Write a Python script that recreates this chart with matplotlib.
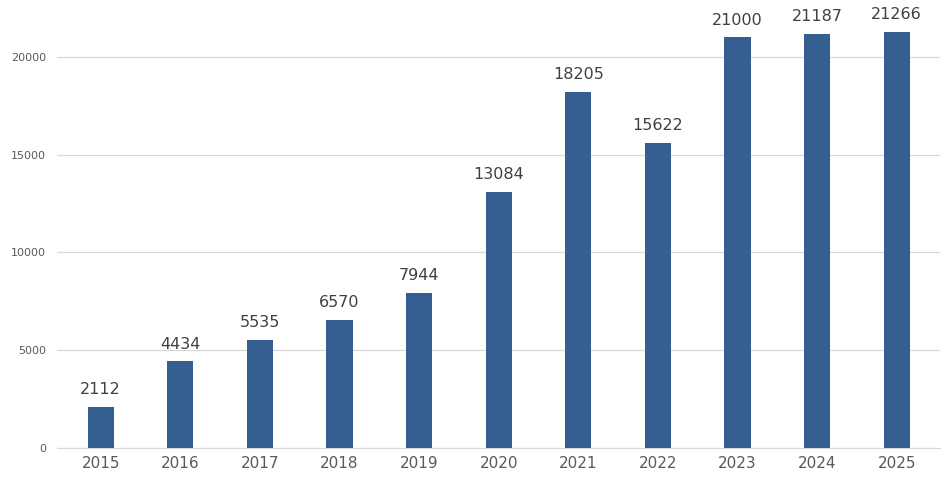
import matplotlib.pyplot as plt

years = ["2015", "2016", "2017", "2018", "2019", "2020", "2021", "2022", "2023", "2024", "2025"]
values = [2112, 4434, 5535, 6570, 7944, 13084, 18205, 15622, 21000, 21187, 21266]

fig = plt.figure(figsize=(9.48, 4.94), dpi=100)
ax = fig.add_axes([0.06, 0.093, 0.932, 0.871])

x = range(len(years))
bars = ax.bar(x, values, width=0.33, color="#365F91", zorder=3)
for b, v in zip(bars, values):
    ax.text(b.get_x() + b.get_width() / 2, v + 500, str(v), ha="center", va="bottom",
            fontsize=11.5, color="#404040")

ax.set_xlim(-0.55, len(years) - 0.45)
ax.set_ylim(0, 22000)
ax.set_yticks([0, 5000, 10000, 15000, 20000])
ax.set_xticks(list(x))
ax.set_xticklabels(years)
ax.grid(axis="y", color="#d9d9d9", linewidth=0.9, zorder=0)
ax.tick_params(axis="y", length=0, labelsize=8, labelcolor="#595959", pad=8)
ax.tick_params(axis="x", length=0, labelsize=11, labelcolor="#595959", pad=6)
for s in ["top", "right", "left"]:
    ax.spines[s].set_visible(False)
ax.spines["bottom"].set_color("#d9d9d9")

fig.savefig("out.png")
